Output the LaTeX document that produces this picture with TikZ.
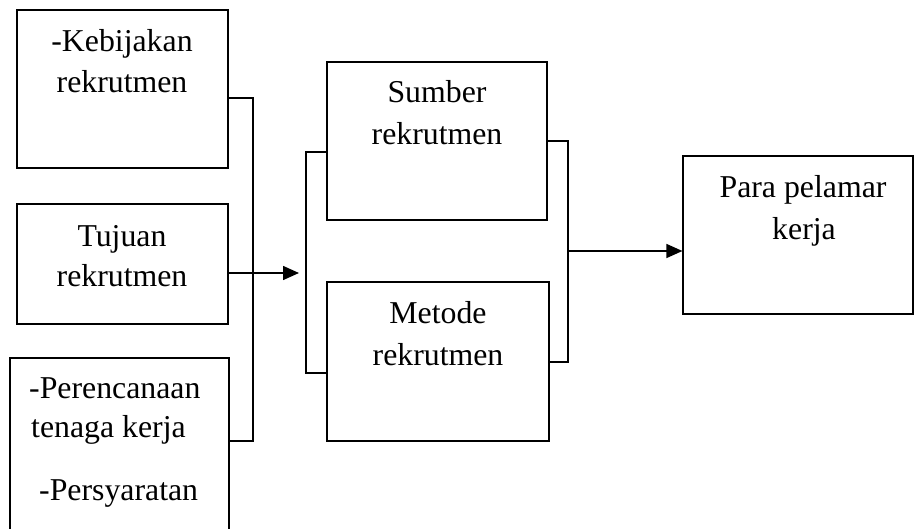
\documentclass[tikz,border=0pt]{standalone}
\usepackage{fontspec}
\setmainfont{Liberation Serif}
\usetikzlibrary{arrows.meta}
\begin{document}
\begin{tikzpicture}[x=1pt,y=-1pt,
  box/.style={draw,line width=1.2pt,rectangle,inner sep=0pt},
  txt/.style={inner sep=0pt,anchor=base,font=\fontsize{31.8}{38}\selectfont},
  txtw/.style={inner sep=0pt,anchor=base west,font=\fontsize{31.8}{38}\selectfont},
  conn/.style={line width=1.2pt},
  arr/.style={line width=1.5pt,-{Triangle[length=16pt,width=14pt]}}]
\useasboundingbox (0,0) rectangle (915,529);
% boxes
\node[box,minimum width=211pt,minimum height=158pt] (b1) at (122.5,89) {};
\node[box,minimum width=211pt,minimum height=120pt] (b2) at (122.5,264) {};
\node[box,minimum width=219pt,minimum height=187pt] (b3) at (119.5,451.5) {};
\node[box,minimum width=220pt,minimum height=158pt] (s) at (437,141) {};
\node[box,minimum width=222pt,minimum height=159pt] (m) at (438,361.5) {};
\node[box,minimum width=230pt,minimum height=158pt] (p) at (798,235) {};
% texts
\node[txt] (t1a) at (122,52) {-Kebijakan};
\node[txt] (t1b) at (122,93) {rekrutmen};
\node[txt] (t2a) at (122,247) {Tujuan};
\node[txt] (t2b) at (122,287) {rekrutmen};
\node[txtw] (t3a) at (29,398) {-Perencanaan};
\node[txtw] (t3b) at (31,437) {tenaga kerja};
\node[txtw] (t3c) at (39,500) {-Persyaratan};
\node[txt] (tsa) at (437,103) {Sumber};
\node[txt] (tsb) at (437,145) {rekrutmen};
\node[txt] (tma) at (438,323) {Metode};
\node[txt] (tmb) at (438,365) {rekrutmen};
\node[txt] (tpa) at (803,198) {Para pelamar};
\node[txt] (tpb) at (804,240) {kerja};
% bracket 1
\coordinate (k1) at (253,98);
\coordinate (k2) at (253,273);
\coordinate (k3) at (253,441);
\coordinate (a1) at (299,273);
\draw[conn] (b1.east |- k1) -- (k1) -- (k3) -- (b3.east |- k3);
\draw[conn] (b2.east |- k2) -- (k2);
\draw[arr] (k2) -- (a1);
% bracket 2
\coordinate (l1) at (306,152);
\coordinate (l2) at (306,373);
\draw[conn] (s.west |- l1) -- (l1) -- (l2) -- (m.west |- l2);
% bracket 3
\coordinate (r1) at (568,141);
\coordinate (r2) at (568,362);
\coordinate (r3) at (568,251);
\draw[conn] (s.east |- r1) -- (r1) -- (r2) -- (m.east |- r2);
\draw[arr] (r3) -- (p.west |- r3);
\end{tikzpicture}
\end{document}
